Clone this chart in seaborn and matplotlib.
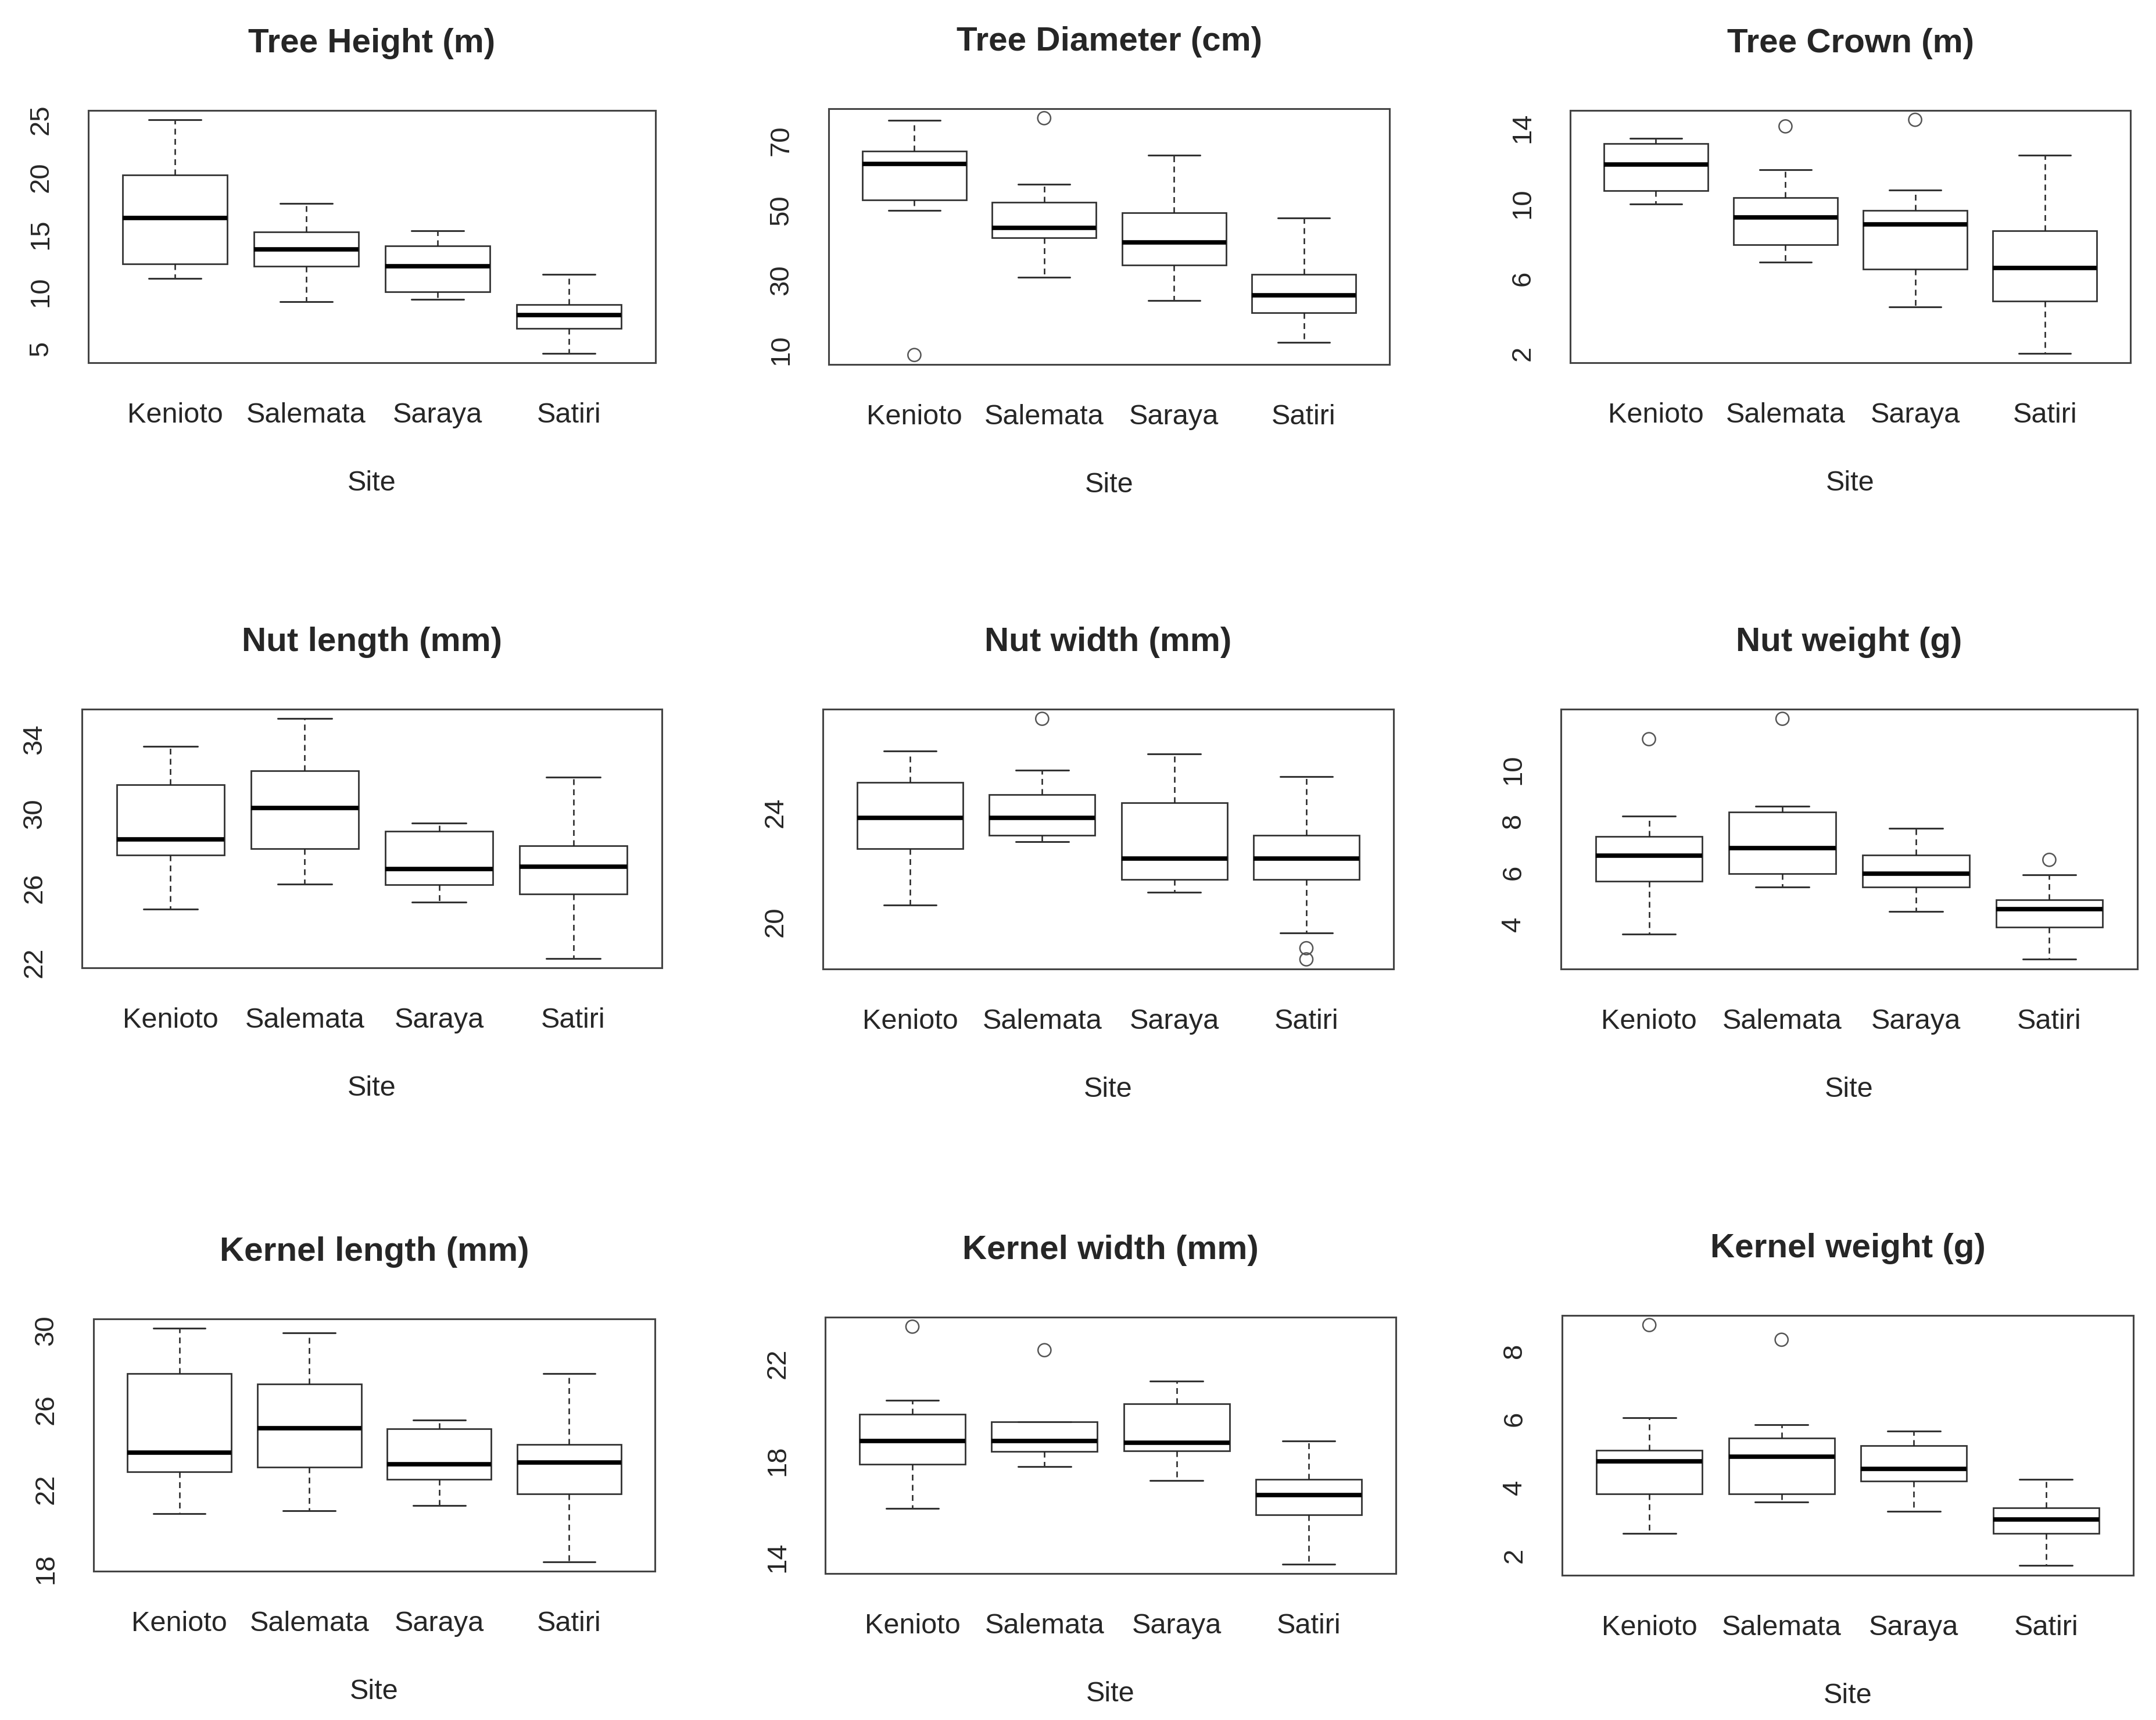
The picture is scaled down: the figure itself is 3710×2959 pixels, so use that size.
import numpy as np
import pandas as pd
import matplotlib
matplotlib.use('Agg')
import matplotlib.pyplot as plt
import seaborn as sns

sns.set_style('white')
plt.rcParams['font.family'] = ['Liberation Sans', 'DejaVu Sans']

sites = ['Kenioto', 'Salemata', 'Saraya', 'Satiri']

# box stats per site: (lower whisker, Q1, median, Q3, upper whisker)
tree_height = [(11.15, 12.4, 16.4, 20.2, 25.0),
               (9.1, 12.2, 13.7, 15.2, 17.7),
               (9.3, 10.0, 12.2, 14.0, 15.3),
               (4.6, 6.8, 7.95, 8.85, 11.5)]
tree_height_out = []

tree_diameter = [(49.9, 53.0, 63.3, 67.0, 75.7),
                 (30.8, 42.1, 45.0, 52.3, 57.4),
                 (24.1, 34.3, 40.8, 49.2, 65.8),
                 (12.2, 20.6, 25.6, 31.6, 47.8)]
tree_diameter_out = [('Kenioto', 8.5), ('Salemata', 76.4)]

tree_crown = [(9.96, 10.65, 12.04, 13.15, 13.45),
              (6.86, 7.78, 9.24, 10.29, 11.76),
              (4.48, 6.47, 8.87, 9.6, 10.7),
              (2.0, 4.79, 6.56, 8.52, 12.53)]
tree_crown_out = [('Salemata', 14.08), ('Saraya', 14.43)]

nut_length = [(24.88, 27.77, 28.63, 31.56, 33.6),
              (26.23, 28.13, 30.31, 32.29, 35.09),
              (25.25, 26.19, 27.02, 29.06, 29.5),
              (22.24, 25.69, 27.16, 28.26, 31.94)]
nut_length_out = []

nut_width = [(20.6, 22.67, 23.81, 25.11, 26.25),
             (22.92, 23.17, 23.81, 24.66, 25.55),
             (21.07, 21.54, 22.31, 24.36, 26.16),
             (19.59, 21.54, 22.31, 23.17, 25.32)]
nut_width_out = [('Salemata', 27.44), ('Satiri', 19.02), ('Satiri', 18.61)]

nut_weight = [(3.61, 5.66, 6.66, 7.40, 8.19),
              (5.43, 5.95, 6.94, 8.35, 8.57),
              (4.49, 5.43, 5.96, 6.68, 7.71),
              (2.63, 3.89, 4.57, 4.93, 5.91)]
nut_weight_out = [('Kenioto', 11.17), ('Salemata', 11.96), ('Satiri', 6.49)]

kernel_length = [(20.76, 22.87, 23.85, 27.82, 30.1),
                 (20.9, 23.1, 25.08, 27.3, 29.88),
                 (21.19, 22.48, 23.26, 25.04, 25.47),
                 (18.34, 21.77, 23.33, 24.24, 27.82)]
kernel_length_out = []

kernel_width = [(16.02, 17.83, 18.79, 19.9, 20.48),
                (17.75, 18.36, 18.79, 19.6, 19.6),
                (17.18, 18.39, 18.73, 20.34, 21.28),
                (13.72, 15.76, 16.57, 17.21, 18.81)]
kernel_width_out = [('Kenioto', 23.52), ('Salemata', 22.55)]

kernel_weight = [(2.65, 3.81, 4.75, 5.08, 6.03),
                 (3.57, 3.81, 4.89, 5.44, 5.83),
                 (3.29, 4.18, 4.53, 5.22, 5.65),
                 (1.70, 2.65, 3.05, 3.39, 4.23)]
kernel_weight_out = [('Kenioto', 8.75), ('Salemata', 8.32)]

titles = ['Tree Height (m)', 'Tree Diameter (cm)', 'Tree Crown (m)',
          'Nut length (mm)', 'Nut width (mm)', 'Nut weight (g)',
          'Kernel length (mm)', 'Kernel width (mm)', 'Kernel weight (g)']
stats = [tree_height, tree_diameter, tree_crown, nut_length, nut_width,
         nut_weight, kernel_length, kernel_width, kernel_weight]
outliers = [tree_height_out, tree_diameter_out, tree_crown_out, nut_length_out,
            nut_width_out, nut_weight_out, kernel_length_out, kernel_width_out,
            kernel_weight_out]
# y ticks and which of them carry a label
yticks = [[5, 10, 15, 20, 25], [10, 20, 30, 40, 50, 60, 70], [2, 4, 6, 8, 10, 12, 14],
          [22, 24, 26, 28, 30, 32, 34], [20, 22, 24, 26], [4, 6, 8, 10, 12],
          [18, 20, 22, 24, 26, 28, 30], [14, 16, 18, 20, 22], [2, 3, 4, 5, 6, 7, 8, 9]]
ylabels = [[5, 10, 15, 20, 25], [10, 30, 50, 70], [2, 6, 10, 14],
           [22, 26, 30, 34], [20, 24], [4, 6, 8, 10],
           [18, 22, 26, 30], [14, 18, 22], [2, 4, 6, 8]]

# frame boxes in pixels (left, top, right, bottom)
W, H = 3710, 2959
frames = [(152, 190, 1128, 624), (1426, 187, 2391, 627), (2702, 190, 3666, 624),
          (141, 1220, 1139, 1665), (1416, 1220, 2398, 1667), (2686, 1220, 3678, 1667),
          (161, 2269, 1127, 2703), (1420, 2266, 2402, 2707), (2688, 2263, 3671, 2710)]

fig = plt.figure(figsize=(W / 100, H / 100), dpi=100)

for i in range(9):
    l, t, r, b = frames[i]
    ax = fig.add_axes([l / W, 1 - b / H, (r - l) / W, (b - t) / H])

    # rebuild a sample whose quartiles / extremes equal the box stats
    rows = []
    for site, (lo, q1, med, q3, hi) in zip(sites, stats[i]):
        for v in [lo, q1, q1, med, q3, q3, hi]:
            rows.append({'Site': site, 'value': v})
    df = pd.DataFrame(rows)

    sns.boxplot(data=df, x='Site', y='value', order=sites, color='white',
                saturation=1, width=0.8, whis=(0, 100), showfliers=False,
                linecolor='#333333', linewidth=2,
                medianprops={'linewidth': 5.5, 'color': 'black'},
                whiskerprops={'linestyle': (0, (4, 3)), 'linewidth': 1.8,
                              'color': '#222222'},
                capprops={'linewidth': 2.2}, ax=ax)

    if outliers[i]:
        odf = pd.DataFrame(outliers[i], columns=['Site', 'value'])
        sns.stripplot(data=odf, x='Site', y='value', order=sites, jitter=False,
                      size=16, ax=ax, zorder=4)
        for coll in ax.collections:
            coll.set_facecolor('none')
            coll.set_edgecolor('#555555')
            coll.set_linewidth(1.8)

    vals = [v for s in stats[i] for v in s] + [v for _, v in outliers[i]]
    lo, hi = min(vals), max(vals)
    pad = 0.04 * (hi - lo)
    ax.set_ylim(lo - pad, hi + pad)
    ax.set_xlim(-0.66, len(sites) - 0.34)

    ax.set_yticks(yticks[i])
    ax.set_yticklabels([str(v) if v in ylabels[i] else '' for v in yticks[i]])
    for lab in ax.get_yticklabels():
        lab.set_rotation(90)
        lab.set_va('center')

    ax.tick_params(axis='both', direction='out', length=23, width=2,
                   color='#444444')
    ax.tick_params(axis='x', labelsize=35, pad=26)
    ax.tick_params(axis='y', labelsize=34, pad=20)
    for sp in ax.spines.values():
        sp.set_visible(True)
        sp.set_linewidth(2.2)
        sp.set_color('#444444')

    ax.set_ylabel('')
    ax.set_xlabel('Site', fontsize=35, labelpad=52)
    ax.set_title(titles[i], fontsize=42, fontweight='bold', pad=72)

fig.savefig('out.png', dpi=100, facecolor='white')
